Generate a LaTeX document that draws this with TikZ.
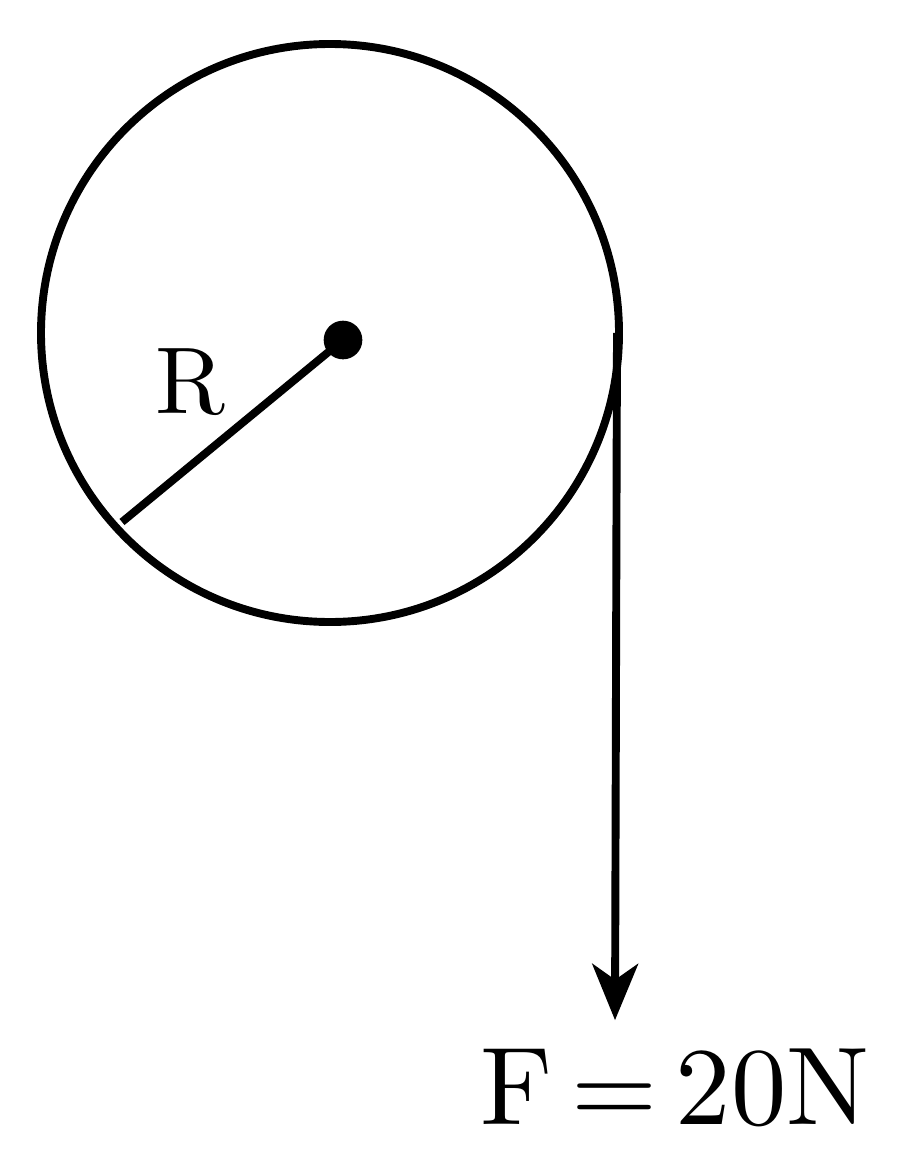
\documentclass[tikz,border=0pt]{standalone}
\usepackage{tikz}
\usetikzlibrary{calc,positioning,arrows.meta}
\begin{document}
\begin{tikzpicture}[x=0.02cm,y=-0.02cm,line width=4.5pt,>={Stealth[width=26pt,length=32pt,inset=9pt]}]
  \useasboundingbox (0,0) rectangle (900,1176);
  \coordinate (c) at (330,333);
  \draw (c) circle[radius=289];
  \node[circle,fill,inner sep=0pt,minimum size=22pt] (axle) at (343,340) {};
  \coordinate (rim) at (122,522);
  \draw (axle.center) -- (rim);
  \node[scale=5.4] (r_lbl) at (190,382) {R};

  %%%%
  \coordinate (top) at (617,333);
  \node[inner sep=0pt] (tip) at (615,1025) {};
  \draw[->] (top) -- (tip);
  \node[scale=6.3] (f_lbl) at (675,1088) {F$\,=\,$20N};
\end{tikzpicture}
\end{document}
